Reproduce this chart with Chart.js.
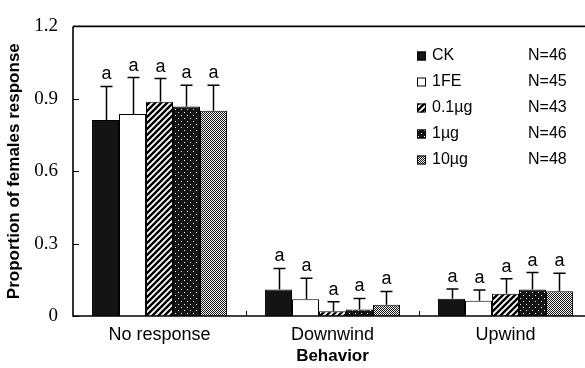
<!DOCTYPE html>
<html>
<head>
<meta charset="utf-8">
<script src="https://cdn.jsdelivr.net/npm/chart.js@4/dist/chart.umd.min.js"></script>
<style>
    html, body { margin: 0; padding: 0; background: #fff; overflow: hidden; }
    #wrap { width: 585px; height: 368px; overflow: hidden; }
</style>
</head>
<body>
<div id="wrap"><canvas id="bars" width="600" height="368"></canvas></div>
<script>
const categories = ["No response", "Downwind", "Upwind"];
const seriesNames = ["CK", "1FE", "0.1\u00b5g", "1\u00b5g", "10\u00b5g"];
const sampleSizes = ["N=46", "N=45", "N=43", "N=46", "N=48"];
const means = [
    [0.812, 0.110, 0.071],
    [0.837, 0.069, 0.063],
    [0.888, 0.020, 0.092],
    [0.868, 0.027, 0.110],
    [0.851, 0.047, 0.103],
];
const errors = [
    [0.139, 0.087, 0.041],
    [0.151, 0.087, 0.045],
    [0.096, 0.039, 0.062],
    [0.088, 0.046, 0.070],
    [0.105, 0.055, 0.074],
];
const letters = [
    ["a", "a", "a"],
    ["a", "a", "a"],
    ["a", "a", "a"],
    ["a", "a", "a"],
    ["a", "a", "a"],
];
const yTicks = [0, 0.3, 0.6, 0.9, 1.2];

const makeTile = (w, h, draw) => {
    const c = document.createElement("canvas");
    c.width = w;
    c.height = h;
    draw(c.getContext("2d"));
    return document.createElement("canvas").getContext("2d").createPattern(c, "repeat");
};

const fills = [
    "#141414",
    "#ffffff",
    makeTile(6, 6, (g) => {
        g.fillStyle = "#fff";
        g.fillRect(0, 0, 6, 6);
        g.strokeStyle = "#000";
        g.lineWidth = 2.4;
        g.beginPath();
        g.moveTo(-1, 7); g.lineTo(7, -1);
        g.moveTo(-4, 4); g.lineTo(4, -4);
        g.moveTo(2, 10); g.lineTo(10, 2);
        g.stroke();
    }),
    makeTile(6, 6, (g) => {
        g.fillStyle = "#141414";
        g.fillRect(0, 0, 6, 6);
        g.fillStyle = "#fff";
        g.fillRect(1, 1, 1, 1);
        g.fillRect(4, 4, 1, 1);
    }),
    makeTile(2, 2, (g) => {
        g.fillStyle = "#f2f2f2";
        g.fillRect(0, 0, 2, 2);
        g.fillStyle = "#1a1a1a";
        g.fillRect(0, 0, 1, 1);
        g.fillRect(1, 1, 1, 1);
    }),
];

const extras = {
    id: "extras",
    afterDatasetsDraw(chart) {
        const ctx = chart.ctx;
        const area = chart.chartArea;
        const y = chart.scales.y;
        const x = chart.scales.x;
        ctx.save();
        ctx.strokeStyle = "#000";
        ctx.lineWidth = 1.6;

        // frame: left, bottom, top
        ctx.beginPath();
        ctx.moveTo(area.left, area.top);
        ctx.lineTo(area.right, area.top);
        ctx.moveTo(area.left, area.top);
        ctx.lineTo(area.left, area.bottom);
        ctx.lineTo(area.right, area.bottom);
        ctx.stroke();

        // inward ticks
        ctx.lineWidth = 1;
        ctx.beginPath();
        yTicks.forEach((v) => {
            const py = Math.round(y.getPixelForValue(v)) + 0.5;
            ctx.moveTo(area.left, py);
            ctx.lineTo(area.left + 6, py);
        });
        for (let i = 1; i < categories.length; i++) {
            const px = Math.round((x.getPixelForValue(i - 1) + x.getPixelForValue(i)) / 2) + 0.5;
            ctx.moveTo(px, area.bottom);
            ctx.lineTo(px, area.bottom - 5);
        }
        ctx.stroke();

        // error bars and letters
        ctx.lineWidth = 1.5;
        ctx.fillStyle = "#000";
        ctx.font = "18px 'Liberation Sans', Arial, sans-serif";
        ctx.textAlign = "center";
        ctx.textBaseline = "alphabetic";
        chart.data.datasets.forEach((ds, di) => {
            const meta = chart.getDatasetMeta(di);
            meta.data.forEach((bar, i) => {
                const top = y.getPixelForValue(means[di][i] + errors[di][i]);
                const bx = Math.round(bar.x) + 0.5;
                ctx.beginPath();
                ctx.moveTo(bx, bar.y);
                ctx.lineTo(bx, top);
                ctx.moveTo(bx - 6, top);
                ctx.lineTo(bx + 6, top);
                ctx.stroke();
                ctx.fillText(letters[di][i], bx, top - 7);
            });
        });

        // legend
        const lx = 417, ly = 56, step = 26, box = 9;
        ctx.font = "16px 'Liberation Sans', Arial, sans-serif";
        ctx.textAlign = "left";
        ctx.textBaseline = "middle";
        ctx.lineWidth = 1;
        seriesNames.forEach((name, i) => {
            const cy = ly + i * step;
            ctx.fillStyle = fills[i];
            ctx.fillRect(lx, cy - box / 2, box, box);
            ctx.strokeRect(lx + 0.5, cy - box / 2 + 0.5, box - 1, box - 1);
            ctx.fillStyle = "#000";
            ctx.fillText(name, lx + 15, cy);
            ctx.fillText(sampleSizes[i], 528, cy);
        });
        ctx.restore();
    },
};

new Chart(document.querySelector("#bars"), {
    type: "bar",
    data: {
        labels: categories,
        datasets: seriesNames.map((name, i) => ({
            label: name,
            data: means[i],
            backgroundColor: fills[i],
            borderColor: "#000",
            borderWidth: 1,
            barPercentage: 1,
            categoryPercentage: 0.78,
        })),
    },
    options: {
        responsive: false,
        animation: false,
        layout: { padding: { top: 17, right: 8, left: 0, bottom: 0 } },
        plugins: {
            legend: { display: false },
            tooltip: { enabled: false },
        },
        scales: {
            x: {
                grid: { display: false, drawTicks: false },
                border: { display: false },
                ticks: {
                    color: "#000",
                    padding: 8,
                    font: { family: "'Liberation Sans', Arial, sans-serif", size: 18 },
                },
                title: {
                    display: true,
                    text: "Behavior",
                    color: "#000",
                    padding: { top: 0, bottom: 1 },
                    font: { family: "'Liberation Sans', Arial, sans-serif", size: 17, weight: "bold" },
                },
                afterFit: (scale) => { scale.height = 52; },
            },
            y: {
                min: 0,
                max: 1.2,
                grid: { display: false, drawTicks: false },
                border: { display: false },
                afterBuildTicks: (scale) => {
                    scale.ticks = yTicks.map((v) => ({ value: v }));
                },
                ticks: {
                    color: "#000",
                    padding: 15,
                    font: { family: "'Liberation Serif', 'Times New Roman', serif", size: 19 },
                    callback: (v) => (v === 0 ? "0" : v.toFixed(1)),
                },
                title: {
                    display: true,
                    text: "Proportion of females response",
                    color: "#000",
                    padding: { top: 4, bottom: 0 },
                    font: { family: "'Liberation Sans', Arial, sans-serif", size: 17, weight: "bold" },
                },
                afterFit: (scale) => { scale.width = 73; },
            },
        },
    },
    plugins: [extras],
});
</script>
</body>
</html>
